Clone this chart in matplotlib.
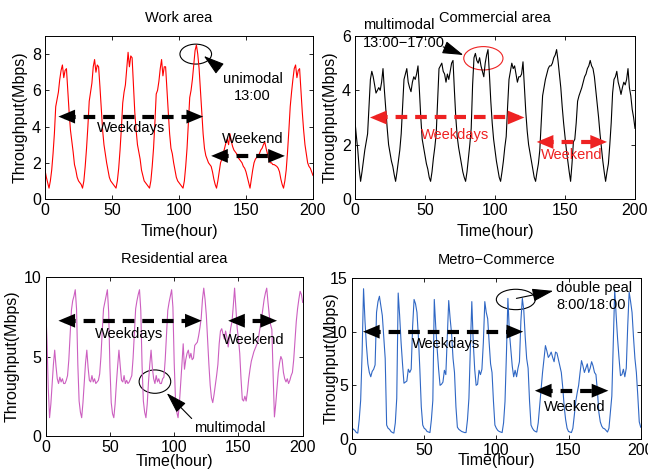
import matplotlib
matplotlib.use("Agg")
import matplotlib.pyplot as plt
from matplotlib.patches import Ellipse
import numpy as np

plt.rcParams['font.family'] = ['Liberation Sans', 'DejaVu Sans']

hours = list(range(0, 201))

work_area = [
    1.6, 1.2, 0.9,
    0.6, 1.0, 1.6, 2.5, 3.6, 5.1, 5.5, 5.9, 6.6, 7.1, 7.4, 6.7, 7.1, 7.2, 6.0, 4.8, 3.8, 3.2, 2.6, 1.9, 1.6, 1.2, 1.0, 0.9, 0.8,
    0.6, 1.0, 1.8, 2.8, 4.0, 5.4, 5.9, 6.4, 7.3, 7.7, 7.0, 7.4, 7.3, 6.2, 5.0, 3.8, 3.0, 2.5, 2.0, 1.6, 1.2, 1.0, 0.9, 0.8, 0.7,
    0.6, 1.0, 1.7, 2.7, 3.9, 5.3, 5.9, 6.3, 7.2, 8.1, 7.3, 7.9, 7.8, 6.3, 4.8, 3.8, 3.0, 2.6, 2.2, 1.6, 1.3, 1.0, 0.9, 0.8, 0.7,
    0.6, 1.0, 1.8, 2.8, 4.2, 5.8, 6.0, 6.5, 7.2, 7.7, 6.8, 7.3, 7.3, 6.0, 4.8, 3.6, 2.8, 2.5, 2.0, 1.6, 1.2, 1.0, 0.9, 0.8, 0.7,
    0.6, 1.0, 1.8, 2.8, 4.2, 5.6, 6.0, 6.6, 7.4, 8.2, 8.5, 8.0, 7.2, 6.0, 4.8, 3.6, 2.8, 2.4, 2.2, 2.0, 1.9, 1.8, 1.5, 1.1, 0.8,
    0.6, 1.0, 1.5, 2.0, 2.2, 2.5, 2.8, 3.1, 3.3, 3.0, 3.6, 3.2, 2.9, 2.7, 2.6, 2.5, 2.3, 2.2, 2.1, 2.0, 1.8, 1.7, 1.5, 1.2, 0.9,
    0.6, 1.1, 1.6, 2.0, 2.2, 2.3, 2.4, 2.5, 2.7, 2.8, 3.0, 3.15, 2.8, 2.5, 2.2, 2.0, 2.0, 1.9, 1.9, 1.85, 1.8, 1.7, 1.5, 1.1, 0.8,
    0.6, 1.0, 1.6, 2.6, 3.8, 5.1, 5.9, 6.6, 7.2, 7.4, 6.7, 7.1, 7.2, 6.0, 4.8, 3.8, 3.0, 2.5, 2.0, 1.8, 1.7, 1.5, 1.3,
]

commercial_area = [
    2.85, 2.3, 1.8, 1.1, 0.65,
    1.0, 1.4, 1.8, 2.1, 2.4, 3.4, 4.4, 4.7, 4.5, 4.2, 3.9, 4.0, 4.1, 4.0, 4.3, 4.8, 4.0, 3.3, 2.6, 2.0, 1.7, 1.4, 1.2, 0.9, 0.65,
    1.0, 1.4, 1.8, 2.4, 3.4, 4.4, 4.6, 4.8, 4.3, 4.1, 3.95, 4.3, 4.5, 4.4, 4.6, 4.9, 4.0, 3.0, 2.2, 1.9, 1.6, 1.3, 1.1, 0.8, 0.65,
    1.0, 1.5, 1.9, 2.4, 3.6, 4.8, 4.9, 5.0, 4.7, 4.6, 4.3, 4.6, 4.4, 4.7, 5.0, 5.1, 4.0, 3.0, 2.3, 1.9, 1.6, 1.3, 1.0, 0.8, 0.65,
    1.0, 1.5, 2.0, 2.6, 4.2, 5.2, 5.36, 5.1, 5.0, 5.2, 4.9, 4.7, 4.5, 5.0, 5.3, 5.5, 4.6, 3.6, 2.8, 2.2, 1.8, 1.4, 1.1, 0.8, 0.65,
    1.0, 1.4, 1.9, 2.3, 3.4, 4.4, 4.7, 5.0, 4.8, 4.9, 4.6, 4.3, 4.5, 4.5, 4.6, 5.05, 4.1, 3.2, 2.5, 2.0, 1.7, 1.4, 1.1, 0.8, 0.65,
    1.0, 1.3, 1.8, 2.8, 3.8, 4.1, 4.4, 4.6, 4.8, 4.9, 4.9, 5.0, 5.2, 5.3, 5.5, 5.1, 4.6, 4.1, 3.4, 2.8, 2.3, 1.8, 1.4, 1.0, 0.65,
    1.3, 2.1, 2.2, 2.8, 3.6, 3.8, 3.95, 4.1, 4.3, 4.5, 4.6, 4.8, 4.9, 5.1, 4.9, 4.8, 4.5, 4.0, 3.5, 3.0, 2.4, 1.9, 1.4, 1.0, 0.65,
    1.0, 1.3, 2.0, 2.8, 3.9, 4.4, 4.5, 4.7, 4.3, 4.1, 3.85, 4.1, 4.3, 4.2, 4.4, 4.8, 4.1, 3.8, 3.3, 3.0, 2.6,
]

residential_area = [
    8.2, 6.0, 3.0,
    1.15, 2.0, 3.3, 4.5, 5.4, 4.4, 3.6, 3.3, 3.7, 3.4, 3.6, 3.3, 3.3, 3.5, 3.8, 4.8, 6.4, 7.9, 8.5, 8.8, 9.2, 8.0, 4.5, 2.2, 1.5,
    1.15, 2.1, 3.4, 4.6, 5.4, 4.3, 3.5, 3.4, 3.8, 3.4, 3.6, 3.3, 3.4, 3.5, 3.9, 5.0, 6.6, 8.0, 8.4, 8.8, 9.2, 7.8, 4.3, 2.1, 1.4,
    1.15, 2.0, 3.3, 4.4, 5.4, 4.4, 3.5, 3.4, 3.8, 3.3, 3.5, 3.3, 3.4, 3.6, 3.8, 4.9, 6.5, 8.0, 8.5, 8.9, 9.2, 7.9, 4.4, 2.2, 1.5,
    1.15, 2.0, 3.4, 4.5, 5.4, 4.3, 3.6, 3.3, 3.8, 3.4, 3.6, 3.3, 3.3, 3.6, 3.7, 4.8, 6.4, 7.9, 8.4, 8.8, 9.2, 8.1, 4.6, 2.3, 1.5,
    1.15, 2.0, 3.2, 4.5, 5.8, 4.2, 4.8, 5.2, 5.4, 4.9, 5.2, 4.8, 4.9, 5.7, 5.8, 5.9, 6.3, 6.8, 7.4, 8.6, 9.3, 8.6, 7.6, 6.0, 4.5, 3.2, 2.4,
    2.1, 2.6, 3.2, 3.8, 4.5, 5.8, 6.6, 6.75, 6.4, 6.1, 6.6, 6.2, 5.6, 6.2, 6.8, 7.2, 8.2, 9.3, 8.0, 6.8, 6.1, 5.2, 3.6, 2.3, 2.2,
    2.5, 2.2, 2.8, 3.6, 4.2, 4.7, 5.0, 5.3, 5.5, 5.7, 5.9, 6.4, 6.9, 7.4, 8.0, 8.6, 9.0, 9.3, 8.4, 7.6, 7.0, 6.7, 3.8,
    1.2, 2.0, 3.0, 4.0, 4.6, 5.0, 4.8, 4.0, 3.6, 3.4, 3.6, 3.3, 3.5, 3.8, 4.0, 4.8, 6.0, 7.2, 8.0, 8.6, 9.1, 8.9, 8.4,
]

metro_commerce = [
    1.05, 0.9, 0.8, 0.6, 0.55, 1.8, 3.6, 8.0, 14.0, 11.0, 8.7, 7.0, 6.2, 5.8, 6.3, 6.5, 6.9, 11.8, 12.8, 13.3, 12.4, 11.5, 9.5, 7.5, 1.3,
    1.0, 0.9, 0.7, 0.6, 0.55, 1.5, 3.8, 13.6, 11.5, 9.0, 7.0, 5.2, 5.3, 5.4, 6.5, 6.2, 6.5, 10.5, 13.0, 12.6, 11.8, 9.5, 6.5, 3.0, 1.3,
    1.0, 0.9, 0.7, 0.65, 0.6, 1.8, 3.6, 13.0, 10.5, 8.4, 6.5, 5.0, 5.1, 5.3, 6.4, 6.0, 9.5, 12.9, 11.2, 9.8, 7.5, 6.2, 3.0, 1.1, 0.9,
    0.8, 0.7, 0.65, 0.6, 0.6, 1.8, 3.8, 8.5, 12.8, 9.0, 6.5, 5.0, 5.1, 6.4, 6.0, 6.5, 9.0, 12.8, 11.8, 11.2, 9.0, 7.0, 6.2, 3.5, 1.3,
    1.0, 0.8, 0.7, 0.65, 0.6, 1.5, 3.5, 8.0, 13.1, 10.0, 8.4, 6.8, 5.8, 6.4, 5.8, 6.6, 7.2, 11.0, 13.1, 12.0, 9.5, 7.5, 6.6, 3.5, 1.3,
    1.0, 0.8, 0.7, 0.65, 1.5, 3.1, 4.8, 6.2, 7.5, 8.7, 8.2, 7.6, 7.8, 8.1, 7.6, 7.2, 8.1, 8.0, 7.4, 6.8, 6.2, 4.8, 3.0, 1.8, 1.0, 0.7, 0.65,
    0.6, 1.0, 2.2, 3.5, 4.3, 5.0, 6.2, 7.3, 6.8, 6.2, 6.6, 7.0, 6.2, 6.6, 7.2, 6.8, 6.2, 6.0, 4.5, 2.5, 1.6, 1.2, 1.0, 0.95, 0.8, 0.65,
    1.0, 2.5, 4.0, 9.0, 13.9, 11.5, 9.3, 7.5, 5.9, 6.0, 6.5, 5.8, 6.6, 10.5, 13.7, 12.8, 11.8, 9.5, 7.5, 6.2, 4.0, 1.6, 1.1,
]

titles = ["Work area", "Commercial area", "Residential area", "Metro\u2212Commerce"]
x_ticks = [0, 50, 100, 150, 200]

W, H = 648, 469
fig = plt.figure(figsize=(6.48, 4.69), dpi=100)

def px_axes(l, r, t, b):
    return fig.add_axes([l / W, (H - b) / H, (r - l) / W, (b - t) / H])

ax1 = px_axes(45, 313, 36, 199)
ax2 = px_axes(355, 635, 36, 199)
ax3 = px_axes(45.7, 302.7, 277, 436)
ax4 = px_axes(352, 640.7, 278, 439)

specs = [
    (ax1, work_area, '#ff0000', (0, 9), [0, 2, 4, 6, 8]),
    (ax2, commercial_area, '#000000', (0, 6), [0, 2, 4, 6]),
    (ax3, residential_area, '#cc5fc0', (0, 10), [0, 5, 10]),
    (ax4, metro_commerce, '#2f67c4', (0, 15), [0, 5, 10, 15]),
]

for (ax, data, col, yl, yt), title in zip(specs, titles):
    ax.plot(hours, data, color=col, lw=0.8)
    ax.set_xlim(0, 200)
    ax.set_ylim(*yl)
    ax.set_xticks(x_ticks)
    ax.set_yticks(yt)
    ax.tick_params(direction='in', top=True, right=True, labelsize=11.5, length=3, width=0.6, pad=3)
    for s in ax.spines.values():
        s.set_linewidth(0.7)
    ax.set_title(title, fontsize=10.5, pad=10)
    ax.set_ylabel("Throughput(Mbps)", fontsize=11.5, labelpad=3)

ax1.set_xlabel("Time(hour)", fontsize=11.5, labelpad=4)
ax2.set_xlabel("Time(hour)", fontsize=11.5, labelpad=4)
ax3.set_xlabel("Time(hour)", fontsize=11.5, labelpad=-1)
ax4.set_xlabel("Time(hour)", fontsize=11.5, labelpad=-3.5)
ax4.set_ylabel("Throughput(Mbps)", fontsize=11.5, labelpad=-6)


def dbl_arrow(ax, x0, x1, y, color, head=4.0):
    ax.plot([x0 + head, x1 - head], [y, y], color=color, lw=3.0,
            ls=(0, (2.8, 1.9)), solid_capstyle='butt', dash_capstyle='butt', zorder=4)
    st = '-|>,head_length=1.2,head_width=0.5'
    ax.annotate('', xy=(x0, y), xytext=(x0 + head * 1.5, y),
                arrowprops=dict(arrowstyle=st, lw=0, color=color, mutation_scale=10, shrinkA=0, shrinkB=0), zorder=5)
    ax.annotate('', xy=(x1, y), xytext=(x1 - head * 1.5, y),
                arrowprops=dict(arrowstyle=st, lw=0, color=color, mutation_scale=10, shrinkA=0, shrinkB=0), zorder=5)


def pointer(ax, tail, head, color='k'):
    ax.annotate('', xy=head, xytext=tail,
                arrowprops=dict(arrowstyle='-|>,head_length=1.3,head_width=0.4', lw=0.8, color=color,
                                mutation_scale=10, shrinkA=0, shrinkB=0))

red = '#ee2222'
fs = 10.5

# Work area
ax1.add_patch(Ellipse((112.5, 8.0), 23.6, 1.1, fill=False, lw=0.8, ec='k'))
pointer(ax1, (130.4, 7.2), (118.5, 7.9))
ax1.text(155, 6.6, "unimodal", ha='center', va='center', fontsize=fs)
ax1.text(155, 5.7, "13:00", ha='center', va='center', fontsize=fs)
dbl_arrow(ax1, 10, 118, 4.55, 'k')
ax1.text(64, 3.9, "Weekdays", ha='center', va='center', fontsize=fs)
dbl_arrow(ax1, 124, 179, 2.38, 'k')
ax1.text(155, 3.33, "Weekend", ha='center', va='center', fontsize=fs)

# Commercial area
ax2.text(5.5, 6.4, "multimodal", ha='left', va='center', fontsize=fs, clip_on=False)
ax2.text(5.5, 5.75, "13:00\u221217:00", ha='left', va='center', fontsize=fs)
pointer(ax2, (63, 5.6), (77.4, 5.3))
ax2.add_patch(Ellipse((91.7, 5.18), 28, 0.86, fill=False, lw=0.8, ec=red))
dbl_arrow(ax2, 10.7, 121, 3.0, red)
ax2.text(71.4, 2.36, "Weekdays", ha='center', va='center', fontsize=fs, color=red)
dbl_arrow(ax2, 129.8, 180, 2.1, red)
ax2.text(155, 1.62, "Weekend", ha='center', va='center', fontsize=fs, color=red)

# Residential area
dbl_arrow(ax3, 9.9, 121.4, 7.25, 'k')
ax3.text(65, 6.4, "Weekdays", ha='center', va='center', fontsize=fs)
dbl_arrow(ax3, 142, 180, 7.25, 'k')
ax3.text(162, 6.05, "Weekend", ha='center', va='center', fontsize=fs)
ax3.add_patch(Ellipse((85, 3.42), 24.6, 1.47, fill=False, lw=0.8, ec='k'))
pointer(ax3, (113.6, 1.1), (94.2, 2.7))
ax3.text(143.5, 0.53, "multimodal", ha='center', va='center', fontsize=fs)

# Metro-Commerce
dbl_arrow(ax4, 7.6, 118.6, 10.0, 'k')
ax4.text(65.4, 8.85, "Weekdays", ha='center', va='center', fontsize=fs)
dbl_arrow(ax4, 126.7, 177.6, 4.5, 'k')
ax4.text(154.5, 2.95, "Weekend", ha='center', va='center', fontsize=fs)
ax4.add_patch(Ellipse((113.5, 13.0), 27, 1.9, fill=False, lw=0.8, ec='k'))
pointer(ax4, (113.9, 13.1), (139.4, 13.8))
ax4.text(141.3, 14.08, "double peal", ha='left', va='center', fontsize=fs)
ax4.text(141.3, 12.46, "8:00/18:00", ha='left', va='center', fontsize=fs)

fig.savefig("out.png", dpi=100)
